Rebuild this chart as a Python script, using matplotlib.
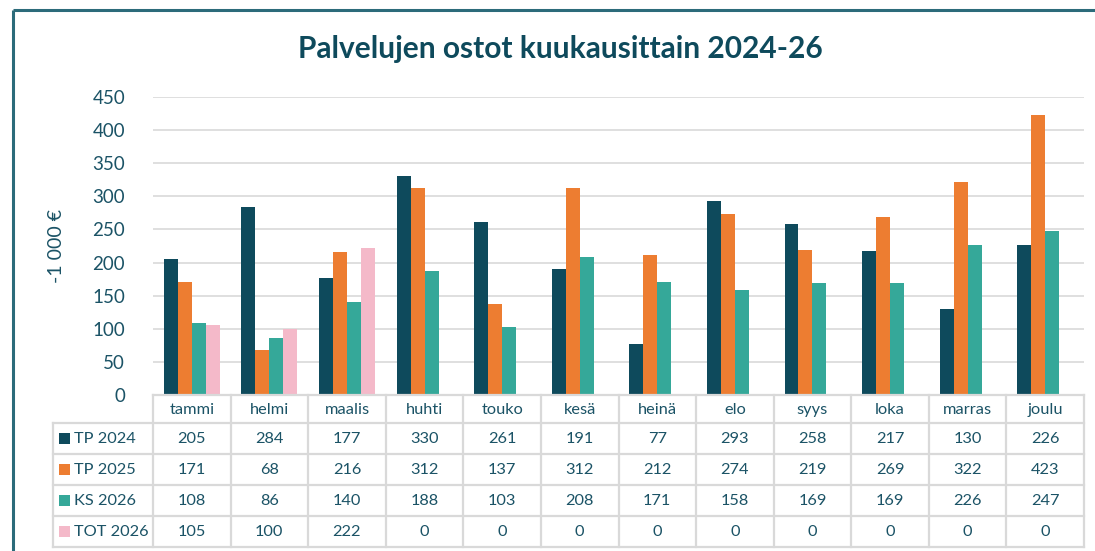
import matplotlib
matplotlib.use("Agg")
import matplotlib.pyplot as plt
import numpy as np

plt.rcParams['font.family'] = ['Lato', 'DejaVu Sans']

months = ["tammi", "helmi", "maalis", "huhti", "touko", "kesä", "heinä", "elo", "syys", "loka", "marras", "joulu"]
series_names = ["TP 2024", "TP 2025", "KS 2026", "TOT 2026"]
tp2024 = [205, 284, 177, 330, 261, 191, 77, 293, 258, 217, 130, 226]
tp2025 = [171, 68, 216, 312, 137, 312, 212, 274, 219, 269, 322, 423]
ks2026 = [108, 86, 140, 188, 103, 208, 171, 158, 169, 169, 226, 247]
tot2026 = [105, 100, 222, 0, 0, 0, 0, 0, 0, 0, 0, 0]
series = [tp2024, tp2025, ks2026, tot2026]
colors = ["#0E4A5C", "#ED7D31", "#35A899", "#F4B9C9"]
yticks = [0, 50, 100, 150, 200, 250, 300, 350, 400, 450]

title = "Palvelujen ostot kuukausittain 2024-26"
ylabel = "-1 000 €"
text_color = "#1B5366"
grid_color = "#D9D9D9"

W, H = 1095, 551
fig = plt.figure(figsize=(W / 100, H / 100), dpi=100)

# plot area in pixels
px_left, px_right, px_top, px_bottom = 153, 1084, 97, 395
ax = fig.add_axes([px_left / W, 1 - px_bottom / H, (px_right - px_left) / W, (px_bottom - px_top) / H])
n = len(months)
x = np.arange(n)
bw = 0.18
for i, (vals, c) in enumerate(zip(series, colors)):
    ax.bar(x + (i - 1.5) * bw, vals, width=bw, color=c, zorder=3, linewidth=0)
ax.set_xlim(-0.5, n - 0.5)
ax.set_ylim(0, 450)
ax.set_yticks(yticks)
ax.set_yticklabels([str(t) for t in yticks], fontsize=13.5, color=text_color)
ax.tick_params(axis='y', length=0, pad=20)
ax.set_xticks([])
ax.grid(axis='y', color=grid_color, linewidth=1.2, zorder=0)
for s in ax.spines.values():
    s.set_visible(False)

# overlay in pixel coordinates
ov = fig.add_axes([0, 0, 1, 1], zorder=-1)
ov.set_xlim(0, W)
ov.set_ylim(H, 0)
ov.axis('off')

# border
border = "#2C6B7A"
ov.plot([13, 13], [10, H], color=border, lw=2.2, solid_capstyle='butt')
ov.plot([13, W], [10, 10], color=border, lw=2.2, solid_capstyle='butt')

# title and y label
fig.text(560 / W, 1 - 49 / H, title, ha='center', va='center', fontsize=21.5,
         fontweight='bold', color="#0E4A5C")
fig.text(57 / W, 1 - 246 / H, ylabel, ha='center', va='center', rotation=90,
         fontsize=14, color=text_color)

# data table
tab = fig.add_axes([0, 0, 1, 1], zorder=5)
tab.set_xlim(0, W)
tab.set_ylim(H, 0)
tab.axis('off')
tab.patch.set_alpha(0)
colw = (px_right - px_left) / n
row_edges = [395, 423, 454, 485, 516, 547]
tlc = "#D9D9D9"
tlw = 1.6
tab.plot([px_left, px_right], [row_edges[0], row_edges[0]], color=tlc, lw=tlw)
for yy in row_edges[1:]:
    tab.plot([53, px_right], [yy, yy], color=tlc, lw=tlw)
tab.plot([53, 53], [row_edges[1], row_edges[-1]], color=tlc, lw=tlw)
for j in range(n + 1):
    xx = px_left + j * colw
    tab.plot([xx, xx], [row_edges[0], row_edges[-1]], color=tlc, lw=tlw)
fs_tab = 11.8
for j, m in enumerate(months):
    tab.text(px_left + (j + 0.5) * colw, (row_edges[0] + row_edges[1]) / 2 + 1, m,
             ha='center', va='center', fontsize=fs_tab, color=text_color)
for i, (name, vals, c) in enumerate(zip(series_names, series, colors)):
    yc = (row_edges[i + 1] + row_edges[i + 2]) / 2
    tab.add_patch(plt.Rectangle((59, yc - 5.5), 11, 11, color=c, lw=0))
    tab.text(74, yc + 0.5, name, ha='left', va='center', fontsize=fs_tab, color=text_color)
    for j, v in enumerate(vals):
        tab.text(px_left + (j + 0.5) * colw, yc + 0.5, str(v), ha='center', va='center',
                 fontsize=fs_tab, color=text_color)

fig.savefig("out.png", dpi=100)
